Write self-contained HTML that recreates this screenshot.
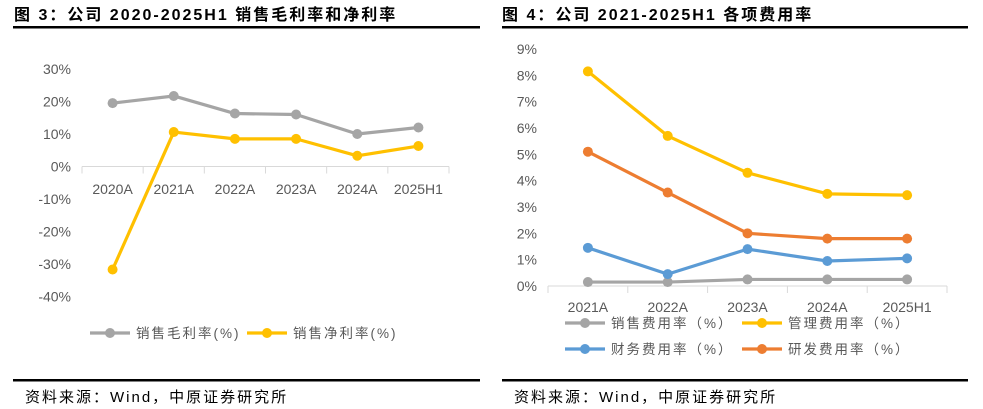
<!DOCTYPE html>
<html><head><meta charset="utf-8"><style>
html,body{margin:0;padding:0;background:#fff;}
svg{display:block;font-family:"Liberation Sans","Noto Sans CJK SC",sans-serif;}
</style></head><body>
<svg id="s" width="983" height="409" viewBox="0 0 983 409">
<text x="14" y="20" font-size="16" font-weight="bold" fill="#000" letter-spacing="2">图 3：公司 2020-2025H1 销售毛利率和净利率</text>
<rect x="13" y="26" width="467" height="2.5" fill="#000"/>
<text x="502" y="20" font-size="16" font-weight="bold" fill="#000" letter-spacing="2">图 4：公司 2021-2025H1 各项费用率</text>
<rect x="502" y="26" width="466" height="2.5" fill="#000"/>
<rect x="13" y="379" width="467" height="2.5" fill="#000"/>
<rect x="502" y="379" width="466" height="2.5" fill="#000"/>
<text x="25" y="402" font-size="15" fill="#000" letter-spacing="2">资料来源：Wind，中原证券研究所</text>
<text x="514" y="402" font-size="15" fill="#000" letter-spacing="2">资料来源：Wind，中原证券研究所</text>
<g id="c1"></g><g id="c2"></g>
</svg>
<script>
const cats1=['2020A','2021A','2022A','2023A','2024A','2025H1'];
const grossMargin=[19.5,21.7,16.3,16.0,10.0,12.0];
const netMargin=[-31.7,10.6,8.5,8.5,3.3,6.3];
const ticks1=[30,20,10,0,-10,-20,-30,-40];
const cats2=['2021A','2022A','2023A','2024A','2025H1'];
const salesExp=[0.15,0.15,0.25,0.25,0.25];
const adminExp=[8.15,5.7,4.3,3.5,3.45];
const finExp=[1.45,0.45,1.4,0.95,1.05];
const rdExp=[5.1,3.55,2.0,1.8,1.8];
const ticks2=[0,1,2,3,4,5,6,7,8,9];
const NS='http://www.w3.org/2000/svg';
function mk(p,t,a){const e=document.createElementNS(NS,t);for(const k in a)e.setAttribute(k,a[k]);p.appendChild(e);return e;}
function series(g,cats,vals,x,y,color,name){
  const pts=vals.map((v,i)=>x(i)+','+y(v)).join(' ');
  const l=mk(g,'polyline',{points:pts,fill:'none',stroke:color,'stroke-width':3.2,'stroke-linejoin':'round'});
  
  
  vals.forEach((v,i)=>{const c=mk(g,'circle',{cx:x(i),cy:y(v),r:5,fill:color});
    
    });
}
function legend(g,x,y,color,label,name){
  const l=mk(g,'line',{x1:x,y1:y,x2:x+40,y2:y,stroke:color,'stroke-width':3.2});
  
  
  const c=mk(g,'circle',{cx:x+20,cy:y,r:5,fill:color});
  
  
  const t=mk(g,'text',{x:x+46,y:y+5,'font-size':13.5,fill:'#595959','letter-spacing':'2'});
  t.textContent=label;
  
  
}
// chart 1
(function(){
  const g=document.getElementById('c1');
  const x0=82,x1=449,n=cats1.length,step=(x1-x0)/n;
  const x=i=>x0+step*(i+0.5);
  const y=v=>166.5-v*3.25;
  ticks1.forEach(t=>{const e=mk(g,'text',{x:71,y:y(t)+5,'font-size':14,fill:'#595959','text-anchor':'end'});
    e.textContent=t+'%';
    
    });
  const ax=mk(g,'line',{x1:x0,y1:y(0),x2:x1,y2:y(0),stroke:'#d9d9d9','stroke-width':1});
  
  
  for(let i=0;i<=n;i++){const tk=mk(g,'line',{x1:x0+step*i,y1:y(0),x2:x0+step*i,y2:y(0)+7,stroke:'#d9d9d9'});
    
    }
  cats1.forEach((c,i)=>{const e=mk(g,'text',{x:x(i),y:194,'font-size':14,fill:'#595959','text-anchor':'middle'});
    e.textContent=c;
    
    });
  series(g,cats1,grossMargin,x,y,'#A5A5A5','gross-margin');
  series(g,cats1,netMargin,x,y,'#FFC000','net-margin');
  legend(g,90,333,'#A5A5A5','销售毛利率(%)','gross-margin');
  legend(g,247,333,'#FFC000','销售净利率(%)','net-margin');
})();
// chart 2
(function(){
  const g=document.getElementById('c2');
  const x0=548,x1=947,n=cats2.length,step=(x1-x0)/n;
  const x=i=>x0+step*(i+0.5);
  const y=v=>286-v*26.33;
  ticks2.forEach(t=>{const e=mk(g,'text',{x:537,y:y(t)+5,'font-size':14,fill:'#595959','text-anchor':'end'});
    e.textContent=t+'%';
    
    });
  const ax=mk(g,'line',{x1:x0,y1:y(0),x2:x1,y2:y(0),stroke:'#d9d9d9','stroke-width':1});
  
  
  for(let i=0;i<=n;i++){const tk=mk(g,'line',{x1:x0+step*i,y1:y(0),x2:x0+step*i,y2:y(0)+7,stroke:'#d9d9d9'});
    
    }
  cats2.forEach((c,i)=>{const e=mk(g,'text',{x:x(i),y:312,'font-size':14,fill:'#595959','text-anchor':'middle'});
    e.textContent=c;
    
    });
  series(g,cats2,salesExp,x,y,'#A5A5A5','sales-expense');
  series(g,cats2,adminExp,x,y,'#FFC000','admin-expense');
  series(g,cats2,finExp,x,y,'#5B9BD5','finance-expense');
  series(g,cats2,rdExp,x,y,'#ED7D31','rd-expense');
  legend(g,565,323,'#A5A5A5','销售费用率（%）','sales-expense');
  legend(g,742,323,'#FFC000','管理费用率（%）','admin-expense');
  legend(g,565,349,'#5B9BD5','财务费用率（%）','finance-expense');
  legend(g,742,349,'#ED7D31','研发费用率（%）','rd-expense');
})();
</script>
</body></html>
